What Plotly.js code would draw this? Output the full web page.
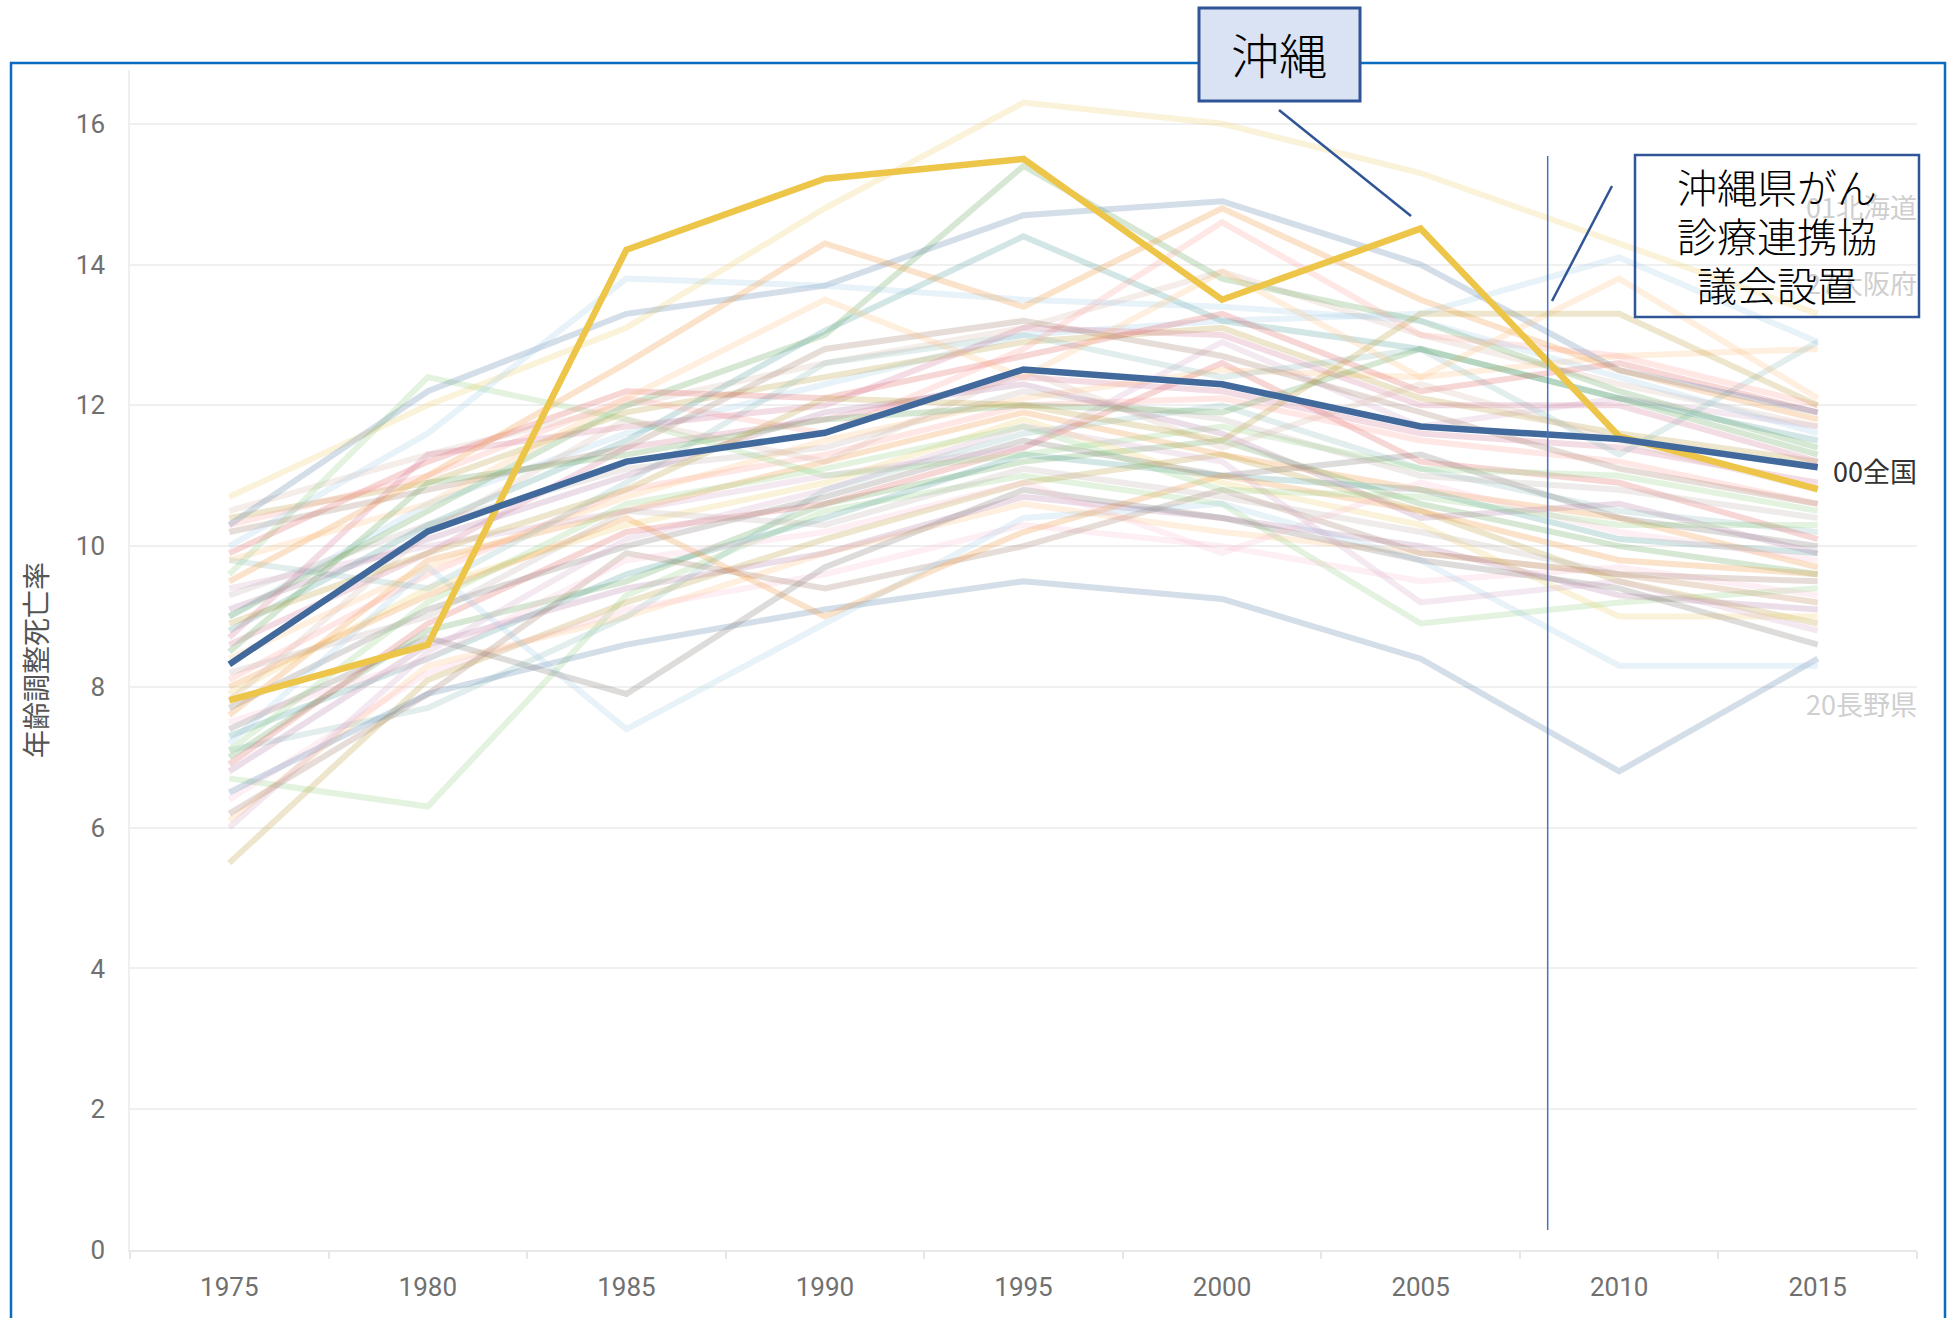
<!DOCTYPE html>
<html><head><meta charset="utf-8">
<script src="https://cdn.plot.ly/plotly-3.0.1.min.js"></script>
<style>html,body{margin:0;padding:0;background:#fff}#chart{width:1954px;height:1318px}</style>
</head><body><div id="chart"></div>
<script>
// ---------- data ----------
const years = [1975, 1980, 1985, 1990, 1995, 2000, 2005, 2010, 2015];
const yTicks = [0, 2, 4, 6, 8, 10, 12, 14, 16];
const yAxisTitle = '年齢調整死亡率';

const nationalName = '00全国';
const nationalValues = [8.32, 10.21, 11.2, 11.61, 12.51, 12.3, 11.7, 11.52, 11.12];
const okinawaName = '47沖縄県';
const okinawaValues = [7.81, 8.6, 14.21, 15.22, 15.5, 13.5, 14.51, 11.56, 10.81];

const prefNames = ['01北海道','02青森県','03岩手県','04宮城県','05秋田県','06山形県','07福島県','08茨城県','09栃木県','10群馬県',
  '11埼玉県','12千葉県','13東京都','14神奈川県','15新潟県','16富山県','17石川県','18福井県','19山梨県','20長野県',
  '21岐阜県','22静岡県','23愛知県','24三重県','25滋賀県','26京都府','27大阪府','28兵庫県','29奈良県','30和歌山県',
  '31鳥取県','32島根県','33岡山県','34広島県','35山口県','36徳島県','37香川県','38愛媛県','39高知県','40福岡県',
  '41佐賀県','42長崎県','43熊本県','44大分県','45宮崎県','46鹿児島県'];

const p01 = [9.0, 10.6, 11.6, 12.3, 13.0, 13.2, 13.3, 14.1, 12.9];
const p02 = [7.6, 9.8, 10.5, 11.2, 11.9, 11.3, 10.8, 10.4, 9.7];
const p03 = [6.1, 8.3, 9.0, 9.9, 10.6, 10.2, 9.9, 9.6, 9.2];
const p04 = [7.0, 8.8, 9.5, 10.6, 11.2, 11.5, 10.6, 10.0, 9.6];
const p05 = [6.7, 6.3, 9.3, 10.5, 11.0, 10.6, 8.9, 9.2, 9.4];
const p06 = [5.5, 8.1, 9.2, 10.1, 10.9, 11.3, 10.5, 9.5, 8.9];
const p07 = [7.9, 9.4, 10.3, 10.9, 11.8, 10.9, 10.3, 9.0, 9.0];
const p08 = [7.3, 8.4, 9.6, 10.4, 11.3, 11.0, 10.8, 10.1, 9.9];
const p09 = [7.1, 7.7, 9.0, 10.8, 11.6, 12.0, 11.1, 10.5, 10.2];
const p10 = [6.9, 8.9, 10.2, 10.6, 11.4, 12.6, 11.2, 10.9, 10.1];
const p11 = [8.1, 9.6, 10.8, 11.3, 12.0, 12.1, 11.5, 11.2, 10.6];
const p12 = [7.7, 9.1, 10.0, 10.7, 11.5, 11.0, 11.3, 10.4, 10.0];
const p13 = [9.3, 10.3, 11.1, 11.4, 12.2, 11.8, 11.0, 10.8, 10.4];
const p14 = [8.6, 9.9, 11.4, 11.8, 12.4, 12.2, 11.6, 11.4, 10.9];
const p15 = [6.4, 8.2, 9.1, 9.6, 10.3, 10.0, 9.5, 9.7, 9.3];
const p16 = [6.8, 8.6, 9.4, 9.9, 10.7, 10.4, 10.0, 9.3, 9.1];
const p17 = [9.4, 10.0, 10.5, 11.0, 11.4, 12.9, 11.7, 12.1, 11.7];
const p18 = [6.2, 7.9, 9.9, 9.4, 10.0, 10.8, 9.9, 9.6, 9.5];
const p19 = [10.5, 11.3, 12.0, 12.6, 13.1, 13.9, 13.0, 12.3, 11.7];
const p20 = [6.5, 7.9, 8.6, 9.1, 9.5, 9.25, 8.4, 6.8, 8.4];
const p21 = [7.2, 9.7, 7.4, 8.9, 10.4, 10.6, 9.8, 8.3, 8.3];
const p22 = [8.0, 9.3, 10.4, 9.0, 10.2, 11.0, 10.5, 9.8, 9.6];
const p23 = [8.4, 9.7, 10.7, 11.5, 12.1, 12.5, 12.4, 12.7, 12.8];
const p24 = [9.0, 10.5, 12.0, 13.0, 15.4, 13.8, 13.2, 12.2, 11.4];
const p25 = [9.6, 12.4, 11.8, 11.0, 11.3, 11.7, 11.1, 11.0, 10.5];
const p26 = [10.4, 10.9, 11.9, 12.4, 12.9, 13.1, 12.1, 11.6, 11.2];
const p27 = [10.7, 12.0, 13.1, 14.8, 16.3, 16.0, 15.3, 14.3, 13.3];
const p28 = [8.8, 10.3, 11.5, 13.06, 14.4, 13.2, 12.8, 12.1, 11.5];
const p29 = [9.8, 9.4, 10.9, 12.6, 13.0, 12.4, 12.8, 11.3, 12.9];
const p30 = [9.9, 11.2, 12.2, 12.1, 12.7, 13.3, 12.2, 12.6, 11.9];
const p31 = [10.3, 11.0, 12.1, 11.6, 12.8, 14.6, 13.0, 12.7, 12.0];
const p32 = [7.4, 8.7, 7.9, 9.7, 10.8, 10.4, 9.8, 9.4, 8.6];
const p33 = [8.2, 9.0, 10.5, 10.3, 11.1, 10.7, 10.2, 9.6, 9.2];
const p34 = [8.7, 11.3, 11.7, 12.0, 13.1, 13.0, 12.0, 12.0, 11.2];
const p35 = [7.5, 8.4, 9.8, 10.2, 10.9, 9.9, 10.9, 10.2, 9.8];
const p36 = [9.1, 10.1, 11.0, 11.9, 12.3, 11.6, 10.4, 10.6, 9.9];
const p37 = [6.0, 8.5, 10.1, 10.8, 11.7, 11.2, 9.2, 9.5, 8.8];
const p38 = [10.2, 10.8, 11.4, 12.8, 13.2, 12.7, 11.9, 11.1, 10.6];
const p39 = [7.8, 10.2, 11.8, 11.2, 12.5, 11.4, 12.3, 11.5, 10.8];
const p40 = [10.3, 12.2, 13.3, 13.7, 14.7, 14.9, 14.0, 12.5, 11.9];
const p41 = [10.0, 11.6, 13.8, 13.7, 13.5, 13.4, 13.2, 12.4, 11.6];
const p42 = [9.5, 11.0, 12.6, 14.3, 13.4, 14.8, 13.5, 12.5, 11.8];
const p43 = [9.8, 10.6, 12.1, 13.5, 12.4, 13.9, 12.4, 13.8, 12.1];
const p44 = [8.5, 10.9, 11.3, 11.8, 12.0, 11.9, 12.8, 12.1, 11.3];
const p45 = [7.1, 9.2, 10.6, 11.1, 11.7, 10.8, 10.7, 10.3, 10.3];
const p46 = [8.9, 9.9, 10.8, 12.1, 12.0, 11.5, 13.3, 13.3, 12.0];
const prefSeries = [p01,p02,p03,p04,p05,p06,p07,p08,p09,p10,p11,p12,p13,p14,p15,p16,p17,p18,p19,p20,
  p21,p22,p23,p24,p25,p26,p27,p28,p29,p30,p31,p32,p33,p34,p35,p36,p37,p38,p39,p40,p41,p42,p43,p44,p45,p46];

// end-of-line labels shown in the chart
const endLabels = ['01北海道', '27大阪府', '00全国', '20長野県'];
const endLabelY = [14.82, 13.75, 11.08, 7.77];

const councilYear = 2008.2;
const councilText = ['沖縄県がん', '診療連携協', '議会設置'];
const okinawaCallout = '沖縄';

// ---------- styles ----------
const tableau20 = ['#4E79A7','#A0CBE8','#F28E2B','#FFBE7D','#59A14F','#8CD17D','#B6992D','#F1CE63','#499894','#86BCB6',
  '#E15759','#FF9D9A','#79706E','#BAB0AC','#D37295','#FABFD2','#B07AA1','#D4A6C8','#9D7660','#D7B5A6'];

const W = 1954, H = 1318;
const ML = 130, MR = 37, MT = 70, MB = 68;
const PW = W - ML - MR, PH = H - MT - MB;
const pxX = px => (px - ML) / PW;
const pxY = py => (H - MB - py) / PH;

const traces = [];
prefSeries.forEach((vals, i) => {
  traces.push({
    x: years, y: vals, name: prefNames[i], type: 'scatter', mode: 'lines',
    line: {color: tableau20[(i + 1) % 20], width: 6},
    opacity: 0.24, hoverinfo: 'name+y'
  });
});
traces.push({x: years, y: okinawaValues, name: okinawaName, type: 'scatter', mode: 'lines',
  line: {color: '#EDC548', width: 6.5}});
traces.push({x: years, y: nationalValues, name: nationalName, type: 'scatter', mode: 'lines',
  line: {color: '#41699C', width: 6.5}});

const tickFont = {family: 'Roboto, "DejaVu Sans", sans-serif', size: 26, color: '#707070'};
const jpFont = '"Noto Sans CJK JP", "Noto Sans", sans-serif';

const annotations = [];
endLabels.forEach((t, i) => {
  annotations.push({
    text: t, xref: 'paper', x: pxX(1919), xanchor: 'right', yref: 'y', y: endLabelY[i], yanchor: 'middle',
    showarrow: false,
    font: {family: jpFont, size: 27, color: t === nationalName ? '#333333' : '#cfcfcf'}
  });
});
annotations.push({
  text: okinawaCallout, xref: 'paper', yref: 'paper', x: pxX(1279), y: pxY(53),
  xanchor: 'center', yanchor: 'middle', showarrow: false,
  font: {family: jpFont, size: 48, color: '#000', weight: 300}
});
const councilLineY = [186, 235, 284];
councilText.forEach((t, i) => {
  annotations.push({
    text: t, xref: 'paper', yref: 'paper', x: pxX(1777), y: pxY(councilLineY[i]),
    xanchor: 'center', yanchor: 'middle', showarrow: false,
    font: {family: jpFont, size: 40, color: '#000', weight: 300}
  });
});

const frameColor = '#0A6CC0', boxColor = '#2F5597';
const shapes = [
  // outer frame (bottom runs off the picture)
  {type: 'path', xref: 'paper', yref: 'paper',
   path: `M ${pxX(11)} ${pxY(1340)} L ${pxX(11)} ${pxY(63)} L ${pxX(1945)} ${pxY(63)} L ${pxX(1945)} ${pxY(1340)}`,
   line: {color: frameColor, width: 2.5}},
  // okinawa callout box
  {type: 'rect', xref: 'paper', yref: 'paper', x0: pxX(1199), x1: pxX(1360), y0: pxY(101), y1: pxY(8),
   fillcolor: '#DAE3F3', line: {color: boxColor, width: 3}},
  {type: 'line', xref: 'paper', yref: 'paper', x0: pxX(1279), y0: pxY(110), x1: pxX(1411), y1: pxY(216),
   line: {color: boxColor, width: 2.5}},
  // council box
  {type: 'rect', xref: 'paper', yref: 'paper', x0: pxX(1635), x1: pxX(1919), y0: pxY(317), y1: pxY(155),
   fillcolor: 'rgba(0,0,0,0)', line: {color: boxColor, width: 2.5}},
  {type: 'line', xref: 'paper', yref: 'paper', x0: pxX(1612), y0: pxY(186), x1: pxX(1552), y1: pxY(301),
   line: {color: boxColor, width: 2.5}},
  // council year reference line
  {type: 'line', xref: 'x', yref: 'paper', x0: councilYear, x1: councilYear, y0: pxY(1230), y1: pxY(156),
   line: {color: '#4472C4', width: 1.5}}
];

const layout = {
  width: W, height: H,
  margin: {l: ML, r: MR, t: MT, b: MB, pad: 0},
  paper_bgcolor: '#ffffff', plot_bgcolor: '#ffffff',
  showlegend: false,
  xaxis: {
    range: [1972.5, 2017.5], tickmode: 'array', tickvals: years, ticktext: years.map(String),
    ticks: '', showgrid: false, zeroline: false,
    showline: true, linecolor: '#e9e9e9', linewidth: 2,
    tickfont: tickFont, ticklabelstandoff: 13,
    minor: {tick0: 1972.5, dtick: 5, ticks: 'outside', ticklen: 7, tickcolor: '#e6e6e6', tickwidth: 1.5, showgrid: false},
    fixedrange: true
  },
  yaxis: {
    range: [0, PH / 70.39], tickmode: 'array', tickvals: yTicks,
    ticks: '', showgrid: true, gridcolor: '#f0f0f0', gridwidth: 2, zeroline: false,
    showline: true, linecolor: '#efefef', linewidth: 1.5,
    tickfont: tickFont, ticklabelstandoff: 18,
    title: {text: yAxisTitle, font: {family: jpFont, size: 28, color: '#555555'}, standoff: 20},
    fixedrange: true
  },
  annotations: annotations,
  shapes: shapes,
  hovermode: 'closest'
};

Plotly.newPlot('chart', traces, layout, {displayModeBar: false, staticPlot: false});
</script>
</body></html>
